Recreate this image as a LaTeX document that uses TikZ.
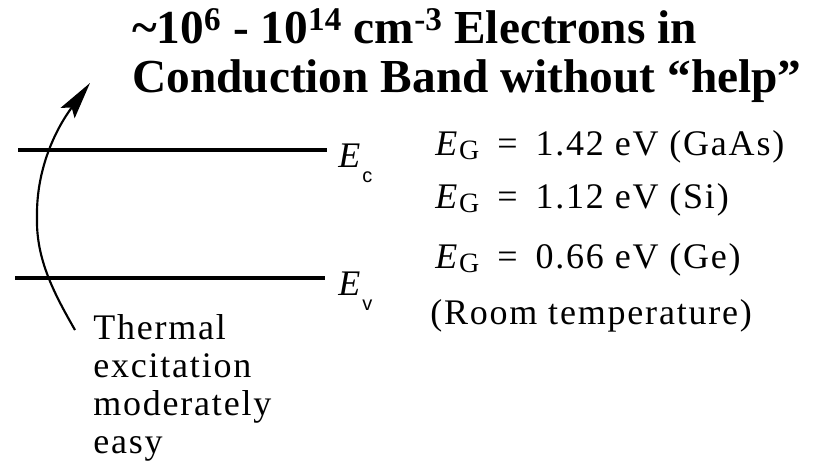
\documentclass[tikz,border=0pt]{standalone}
\usepackage{fontspec}
\setmainfont{Liberation Serif}
\newfontfamily\subsans{Liberation Sans}
\usetikzlibrary{arrows.meta,positioning}

\newcommand{\egsym}{\textit{E}\raisebox{-0.12em}{\fontsize{21}{21}\selectfont G}}
\newcommand{\levelsub}[1]{\kern1.5pt\raisebox{-0.42em}{\subsans\upshape\fontsize{15}{15}\selectfont #1}}

\begin{document}
\begin{tikzpicture}[
 x=0.75pt,y=-0.75pt,
 level/.style={line width=2.3pt},
 excite/.style={line width=1.6pt,-{Stealth[length=28pt,width=13pt,inset=5pt]}},
 heading/.style={anchor=base west,inner sep=0pt,align=left,font=\fontsize{35.5}{36.75}\selectfont\bfseries},
 elabel/.style={anchor=base west,inner sep=0pt,font=\fontsize{27}{27}\selectfont\itshape},
 gaptext/.style={anchor=base west,inner sep=0pt,align=left,font=\fontsize{27}{28.5}\selectfont\addfontfeature{LetterSpace=5}}
]
\useasboundingbox (0,0) rectangle (822,468);

% heading (anchored on the baseline of its last line)
\node[heading] (title) at (132,92) {\textasciitilde10\textsuperscript{6} - 10\textsuperscript{14} cm\textsuperscript{-3} Electrons in\\Conduction Band without “help”};

% band edges
\coordinate (ecl) at (18,150); \coordinate (ecr) at (327,150);
\coordinate (evl) at (15,278); \coordinate (evr) at (325,278);
\draw[level] (ecl) -- (ecr);
\draw[level] (evl) -- (evr);
\node[elabel] (ec) at (338,167) {E\levelsub{c}};
\node[elabel] (ev) at (338,295) {E\levelsub{v}};

% thermal excitation arrow
\coordinate (xlow) at (75,330); \coordinate (xtip) at (90,83);
\draw[excite] (xlow) .. controls (55,295) and (36,260) .. (37,218) .. controls (36,170) and (55,130) .. (xtip);
\node[gaptext] (thermal) at (93,453) {Thermal\\excitation\\moderately\\easy};

% gap values
\node[gaptext] (gaas) at (435,155) {\egsym\enspace=\enspace1.42 eV (GaAs)};
\node[gaptext] (si) at (435,208) {\egsym\enspace=\enspace1.12 eV (Si)};
\node[gaptext] (ge) at (435,268) {\egsym\enspace=\enspace0.66 eV (Ge)};
\node[gaptext] (room) at (430,324) {(Room temperature)};
\end{tikzpicture}
\end{document}
